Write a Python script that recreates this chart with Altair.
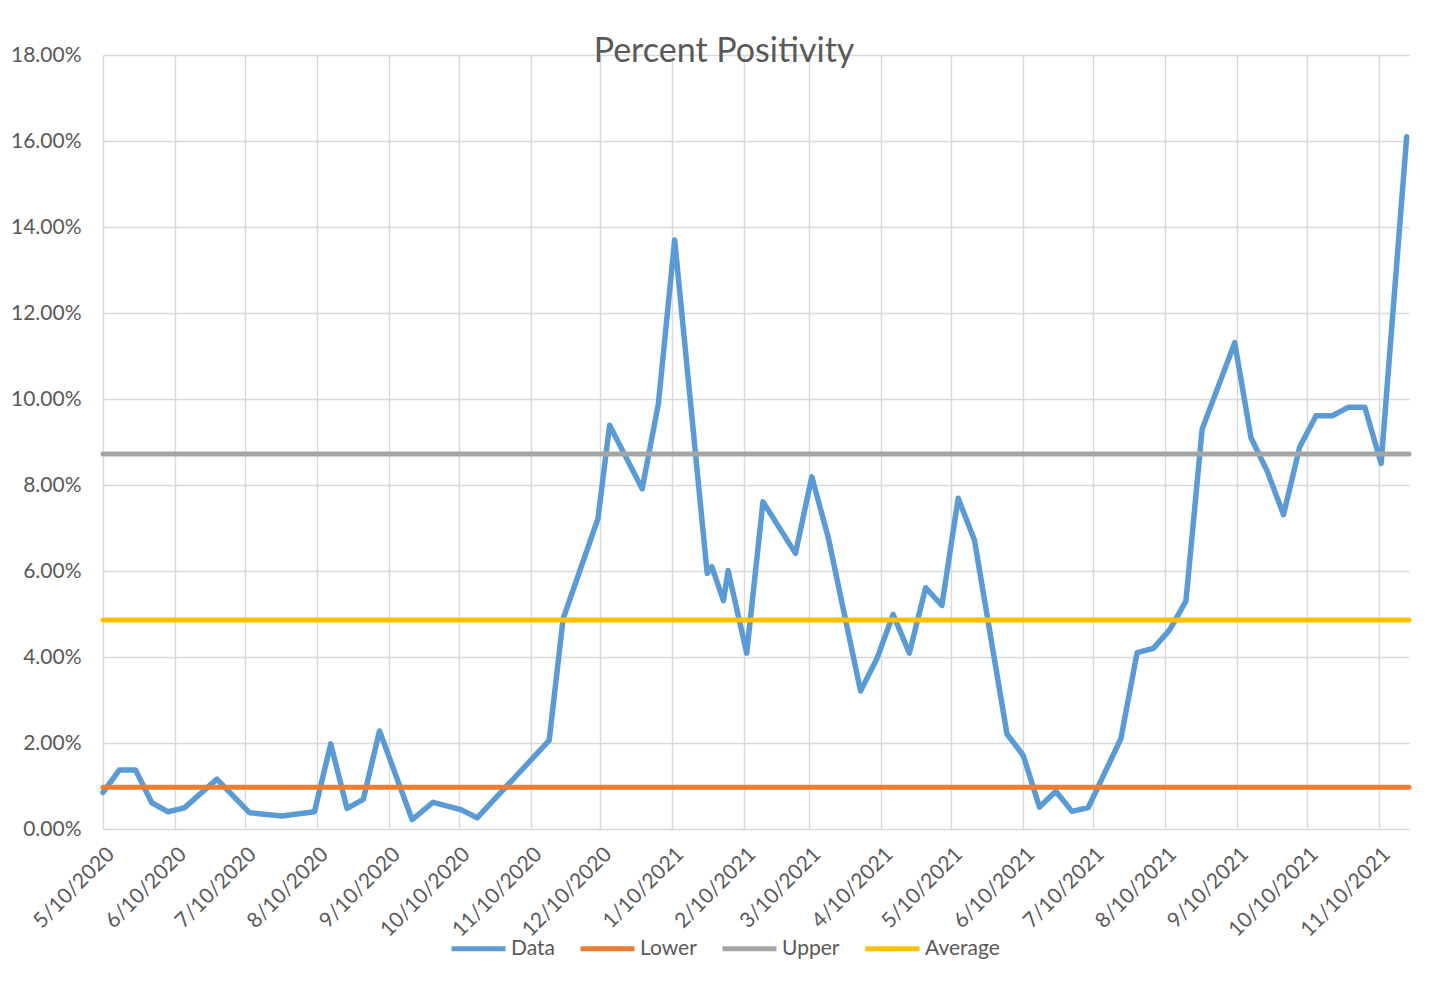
import altair as alt
import pandas as pd

# ---- data ----
dates = [
    "2020-05-10", "2020-05-17", "2020-05-24", "2020-05-31", "2020-06-07", "2020-06-14",
    "2020-06-28", "2020-07-12", "2020-07-26", "2020-08-09", "2020-08-16", "2020-08-23",
    "2020-08-30", "2020-09-06", "2020-09-20", "2020-09-29", "2020-10-11", "2020-10-18",
    "2020-11-18", "2020-11-24", "2020-12-09", "2020-12-14", "2020-12-28", "2021-01-04",
    "2021-01-11", "2021-01-25", "2021-01-27", "2021-02-01", "2021-02-03", "2021-02-11",
    "2021-02-18", "2021-03-04", "2021-03-11", "2021-03-18", "2021-04-01", "2021-04-08",
    "2021-04-15", "2021-04-22", "2021-04-29", "2021-05-06", "2021-05-13", "2021-05-20",
    "2021-06-03", "2021-06-10", "2021-06-17", "2021-06-24", "2021-07-01", "2021-07-08",
    "2021-07-22", "2021-07-29", "2021-08-05", "2021-08-12", "2021-08-19", "2021-08-26",
    "2021-09-09", "2021-09-16", "2021-09-23", "2021-09-30", "2021-10-07", "2021-10-14",
    "2021-10-21", "2021-10-28", "2021-11-04", "2021-11-11", "2021-11-22",
]
positivity = [
    0.85, 1.37, 1.37, 0.61, 0.40, 0.49,
    1.16, 0.38, 0.30, 0.40, 1.98, 0.48,
    0.69, 2.28, 0.22, 0.62, 0.45, 0.26,
    2.06, 4.89, 7.22, 9.39, 7.91, 9.89,
    13.70, 5.94, 6.10, 5.31, 6.01, 4.09,
    7.61, 6.41, 8.19, 6.80, 3.21, 3.96,
    4.99, 4.09, 5.61, 5.20, 7.69, 6.72,
    2.21, 1.71, 0.51, 0.88, 0.41, 0.50,
    2.10, 4.10, 4.20, 4.63, 5.30, 9.30,
    11.31, 9.10, 8.32, 7.31, 8.89, 9.61,
    9.61, 9.81, 9.81, 8.50, 16.10,
]
ref_names = ["Lower", "Upper", "Average"]
ref_values = [0.97, 8.72, 4.86]

series_names = ["Data", "Lower", "Upper", "Average"]
series_colors = ["#5B9BD5", "#ED7D31", "#A5A5A5", "#FFC000"]

tick_months = [(2020, m) for m in range(5, 13)] + [(2021, m) for m in range(1, 12)]

# ---- tables ----
data_df = pd.DataFrame({"date": dates, "value": positivity, "series": "Data"})
ref_df = pd.DataFrame({"series": ref_names, "value": ref_values})

GRID = "#d9d9d9"
TEXT = "#595959"

color_scale = alt.Scale(domain=series_names, range=series_colors)

x_enc = alt.X(
    "date:T",
    title=None,
    scale=alt.Scale(
        type="utc",
        domain=[alt.DateTime(year=2020, month=5, date=10, utc=True),
                alt.DateTime(year=2021, month=11, date=23, utc=True)],
        nice=False,
    ),
    axis=alt.Axis(
        values=[alt.DateTime(year=y, month=m, date=10, utc=True) for y, m in tick_months],
        labelExpr="utcFormat(datum.value, '%-m/%-d/%Y')",
        labelAngle=-45,
        labelPadding=14,
        labelFontSize=21,
        labelOverlap=False,
        labelFlush=False,
        ticks=False,
        domain=False,
        grid=True,
    ),
)

y_enc = alt.Y(
    "value:Q",
    title=None,
    scale=alt.Scale(domain=[0, 18], nice=False),
    axis=alt.Axis(
        values=list(range(0, 19, 2)),
        labelExpr="format(datum.value, '.2f') + '%'",
        labelPadding=22,
        labelFontSize=21,
        ticks=False,
        domain=False,
        grid=True,
    ),
)

legend = alt.Legend(
    title=None,
    orient="none",
    direction="horizontal",
    legendX=346,
    legendY=864,
    symbolType="stroke",
    symbolSize=2916,
    symbolStrokeWidth=5,
    labelFontSize=21,
    labelColor=TEXT,
    labelOffset=3,
    columnPadding=15,
    padding=0,
)

line = alt.Chart(data_df).mark_line(
    strokeWidth=5.5, strokeJoin="round", strokeCap="round"
).encode(
    x=x_enc,
    y=y_enc,
    color=alt.Color("series:N", scale=color_scale, legend=legend),
)

rules = alt.Chart(ref_df).mark_rule(strokeWidth=5, strokeCap="round").encode(
    y=alt.Y("value:Q"),
    color=alt.Color("series:N", scale=color_scale, legend=legend),
)

chart = (
    alt.layer(line, rules)
    .properties(
        width=1306,
        height=774,
        autosize=alt.AutoSizeParams(type="none"),
        padding={"left": 95, "top": 47, "right": 30, "bottom": 150},
        title=alt.TitleParams(
            "Percent Positivity",
            fontSize=34,
            fontWeight="normal",
            color=TEXT,
            font="Lato",
            anchor="middle",
            frame="group",
            dx=-32,
            baseline="alphabetic",
            offset=0,
            dy=52,
        ),
    )
    .configure(font="Lato")
    .configure_axis(
        gridColor=GRID,
        gridWidth=1.4,
        labelColor=TEXT,
        labelFont="Lato",
    )
    .configure_view(stroke=None)
)

chart.save("out.html", embed_options={"renderer": "svg", "actions": False})
